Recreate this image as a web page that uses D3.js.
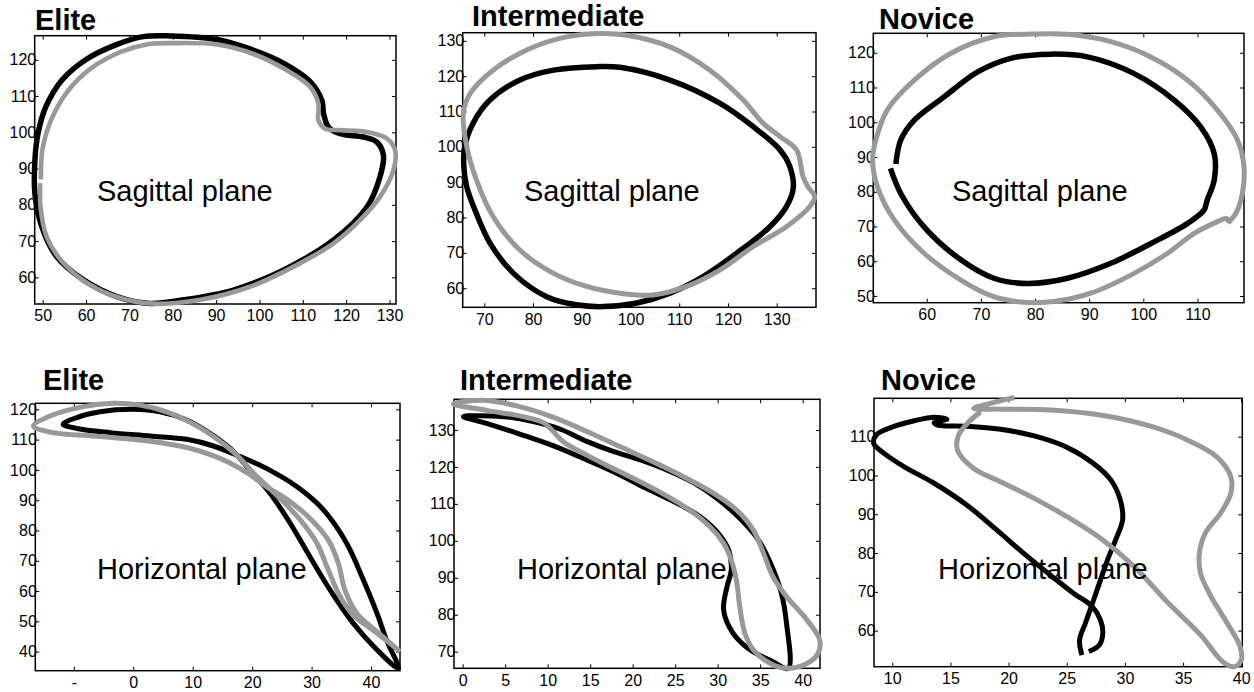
<!DOCTYPE html>
<html>
<head>
<meta charset="utf-8">
<script src="https://cdn.jsdelivr.net/npm/d3@7"></script>
<style>
  body { margin: 0; background: #fff; }
  svg { display: block; font-family: "Liberation Sans", Arial, sans-serif; }
  .title { font-size: 29px; font-weight: bold; }
  .note { font-size: 29px; }
  .tick line { stroke: #000; stroke-width: 1px; }
  .box { fill: none; stroke: #000; stroke-width: 1.5px; }
  .trace { fill: none; stroke-linejoin: round; }
</style>
</head>
<body>
<svg id="chart" width="1254" height="692"></svg>
<script>
// panel titles and annotations
const groups = ["Elite", "Intermediate", "Novice"];
const planes = ["Sagittal plane", "Horizontal plane"];

// tick values per panel
const eliteSagX = [50, 60, 70, 80, 90, 100, 110, 120, 130];
const eliteSagY = [60, 70, 80, 90, 100, 110, 120];
const interSagX = [70, 80, 90, 100, 110, 120, 130];
const interSagY = [60, 70, 80, 90, 100, 110, 120, 130];
const noviceSagX = [60, 70, 80, 90, 100, 110];
const noviceSagY = [50, 60, 70, 80, 90, 100, 110, 120];
const eliteHorX = [-10, 0, 10, 20, 30, 40];
const eliteHorXLabels = ["-", "0", "10", "20", "30", "40"];
const eliteHorY = [40, 50, 60, 70, 80, 90, 100, 110, 120];
const interHorX = [0, 5, 10, 15, 20, 25, 30, 35, 40];
const interHorY = [70, 80, 90, 100, 110, 120, 130];
const noviceHorX = [10, 15, 20, 25, 30, 35, 40];
const noviceHorY = [60, 70, 80, 90, 100, 110];

// traces, [x, y] (black = first trial, grey = second)
const eliteSagBlack = [[79.4,126.6],[90.2,125.6],[97.8,123.0],[105.5,119.1],[111.7,114.0],[114.4,108.8],[114.8,105.1],[115.9,101.5],[118.6,99.6],[124.0,98.7],[127.1,97.3],[128.6,93.7],[127.8,87.7],[124.8,79.4],[117.1,70.3],[105.5,62.0],[94.0,56.5],[82.5,53.8],[74.8,52.8],[67.1,54.7],[59.4,59.3],[53.2,65.7],[49.8,73.9],[48.2,83.1],[48.2,92.3],[48.9,99.6],[50.7,107.0],[54.5,114.5],[60.0,120.1],[67.0,124.2],[73.2,126.4]];
const eliteSagGray = [[49.6,87.0],[49.9,95.0],[51.9,103.3],[55.8,111.4],[61.2,117.7],[68.0,122.2],[74.2,124.3],[80.2,124.6],[90.2,124.2],[98.6,121.6],[106.3,117.1],[111.7,112.5],[113.6,107.9],[113.6,103.3],[115.2,101.0],[118.6,100.6],[124.8,100.1],[129.4,98.3],[131.3,95.0],[130.9,89.5],[127.8,82.2],[123.2,75.8],[117.1,69.4],[107.8,62.9],[97.8,57.4],[86.3,53.8],[76.3,52.7],[69.4,53.8],[61.7,57.4],[54.8,63.9],[50.9,71.2],[49.5,79.4],[49.4,86.0]];
const interSagBlack = [[66.0,100.1],[67.7,106.7],[71.2,113.3],[77.3,118.9],[84.2,121.7],[93.1,122.7],[97.8,122.5],[108.1,118.9],[118.4,112.3],[125.2,105.7],[130.7,99.1],[132.7,94.4],[133.4,88.3],[132.0,83.1],[128.6,77.4],[121.8,69.9],[114.9,63.3],[108.1,58.6],[101.3,55.8],[94.4,54.8],[88.9,55.3],[82.8,57.6],[76.0,64.2],[71.2,72.7],[68.1,82.1],[66.4,88.7],[65.8,94.5]];
const interSagGray = [[65.7,109.5],[67.1,115.1],[71.8,121.7],[78.7,127.4],[85.5,130.7],[92.4,132.0],[99.2,131.6],[108.1,128.3],[116.3,121.7],[123.1,113.3],[127.2,106.7],[130.7,102.9],[134.1,99.1],[135.4,91.6],[136.4,88.7],[137.8,85.9],[136.8,83.1],[132.0,77.4],[125.2,71.8],[118.4,65.2],[111.5,60.5],[104.7,58.1],[97.8,58.6],[91.0,60.5],[84.2,64.2],[77.3,70.8],[71.8,80.3],[68.4,90.6],[66.4,100.1]];
const noviceSagBlack = [[54.3,88.0],[55.2,94.9],[57.7,100.6],[63.2,107.3],[69.4,114.5],[75.5,118.4],[82.9,119.6],[89.7,118.8],[98.3,114.0],[105.7,106.4],[110.6,98.7],[113.1,91.0],[113.1,83.4],[111.8,77.6],[111.2,74.7],[108.2,70.9],[101.4,65.1],[94.0,59.4],[86.0,55.1],[78.6,53.6],[72.4,55.1],[66.3,60.4],[59.5,69.9],[55.2,79.5],[53.3,86.7]];
const noviceSagGray = [[115.6,71.0],[117.1,73.8],[118.3,79.5],[118.6,87.2],[117.4,94.9],[113.7,103.5],[108.2,112.1],[101.4,118.8],[94.0,123.2],[86.0,125.3],[79.8,125.4],[72.4,124.6],[64.4,119.8],[57.7,112.1],[52.7,103.5],[50.6,94.9],[50.0,89.1],[50.9,81.4],[54.0,71.9],[59.5,62.3],[66.3,54.6],[72.4,49.8],[78.0,48.2],[83.5,48.4],[90.3,50.8],[98.3,56.5],[104.5,62.3],[109.4,68.0],[113.7,71.4],[115.3,72.3],[115.8,71.3]];
const eliteHorBlack = [[-11.8,115.1],[-9.5,117.3],[-5.6,119.2],[0,120.0],[4.5,119.2],[9.0,116.5],[12.9,112.1],[16.3,107.1],[19.6,100.0],[23.0,92.3],[26.4,82.4],[29.7,71.4],[33.1,60.4],[37.0,49.4],[41.0,40.6],[44.6,34.5],[42.6,43.9],[41.0,52.7],[38.7,63.7],[35.9,75.8],[32.0,86.8],[27.5,94.5],[22.4,100.5],[18.0,104.4],[13.5,107.9],[9.0,110.1],[2.8,111.2],[-3.9,112.3],[-9.5,113.7]];
const eliteHorGray = [[44.9,40.0],[41.0,46.6],[37.6,52.7],[35.6,60.4],[34.5,69.2],[32.8,76.9],[30.0,83.5],[26.4,89.5],[22.4,94.5],[19.1,99.1],[14.6,103.8],[9.0,107.4],[2.8,109.5],[-5.6,111.0],[-14.0,112.5],[-16.8,114.5],[-14.0,117.8],[-8.4,120.9],[-3.4,122.0],[1.1,121.4],[5.6,119.2],[11.2,114.0],[16.8,106.0],[20.8,97.8],[24.7,90.6],[28.1,83.5],[30.9,75.8],[32.8,67.0],[34.8,58.2],[37.0,52.1],[41.0,46.1],[44.9,40.0]];
const interHorBlack = [[0.1,133.6],[4.8,133.6],[8.3,132.3],[11.5,130.2],[14.6,126.9],[17.7,124.2],[20.9,121.9],[24.0,119.2],[27.1,115.8],[29.9,111.5],[32.6,106.1],[34.8,100.2],[36.4,93.0],[37.5,85.8],[38.1,77.7],[38.3,65.5],[36.5,67.3],[33.8,70.5],[31.8,75.0],[30.7,81.3],[31.1,87.6],[31.6,92.1],[31.3,97.5],[29.9,102.5],[27.9,106.6],[25.2,110.2],[21.6,114.2],[18.1,118.3],[14.6,121.9],[10.7,125.7],[6.7,128.9],[2.8,131.8]];
const interHorGray = [[-1.1,137.1],[2.8,138.0],[6.7,136.3],[10.7,133.4],[14.6,129.6],[18.5,125.5],[22.4,121.4],[25.6,117.8],[29.5,112.9],[32.2,108.4],[34.2,102.9],[35.4,96.6],[36.5,90.3],[38.1,84.9],[40.5,78.6],[42.0,73.2],[41.8,69.5],[40.5,66.8],[38.1,65.5],[36.2,66.8],[34.2,70.5],[33.2,75.0],[32.6,82.2],[32.2,89.4],[31.6,94.8],[30.7,99.3],[29.1,103.8],[26.4,108.8],[22.4,114.2],[18.5,118.7],[14.6,123.2],[11.8,126.9],[10.5,130.0],[9.5,132.0],[6.7,133.8],[2.8,135.3]];
const noviceHorBlack = [[26.3,53.7],[26.1,57.6],[26.6,61.9],[27.2,67.0],[27.8,72.2],[28.5,78.2],[29.2,83.4],[29.8,88.5],[29.6,93.7],[28.8,98.8],[27.3,103.1],[25.0,107.3],[22.2,110.2],[19.3,111.9],[16.4,112.7],[13.9,113.0],[13.6,113.6],[14.7,114.5],[13.6,115.0],[11.9,114.1],[9.9,112.4],[8.6,110.4],[8.4,108.3],[9.3,105.7],[11.0,102.3],[13.6,98.0],[16.4,92.4],[19.0,85.9],[21.3,79.9],[23.6,74.3],[25.6,69.6],[27.2,66.2],[27.9,62.7],[28.1,59.3],[27.8,56.3],[26.9,54.6]];
const noviceHorGray = [[20.5,120.1],[18.7,118.8],[17.0,117.3],[19.3,117.1],[23.6,116.9],[27.9,115.6],[32.2,112.7],[35.4,109.1],[37.9,104.8],[39.1,99.7],[39.1,95.4],[38.2,90.2],[36.9,85.1],[36.4,79.9],[36.5,74.8],[37.4,68.8],[38.8,61.9],[39.9,55.9],[40.0,52.4],[39.4,50.7],[38.4,52.0],[36.5,58.9],[33.6,67.5],[30.8,76.5],[27.9,83.8],[25.0,89.4],[22.2,94.1],[19.3,98.4],[17.0,101.8],[15.6,106.6],[15.7,110.4],[16.6,113.9],[17.6,116.4]];

const svg = d3.select("#chart");

const panels = [
  { box: [34.7, 35.7, 396, 304], xDom: [48.15, 131.5], yDom: [52.65, 126.65], xTicks: eliteSagX, yTicks: eliteSagY,
    title: groups[0], titleAt: [35, 30], note: planes[0], noteAt: [97, 201],
    black: eliteSagBlack, gray: eliteSagGray, blackClosed: true, grayClosed: false, wBlack: 5.5, wGray: 4.6 },
  { box: [462.7, 32.7, 816, 307.3], xDom: [65.57, 138.07], yDom: [54.6, 132.3], xTicks: interSagX, yTicks: interSagY,
    title: groups[1], titleAt: [472, 26], note: planes[0], noteAt: [524, 201],
    black: interSagBlack, gray: interSagGray, blackClosed: true, grayClosed: true, wBlack: 5.5, wGray: 5 },
  { box: [873.3, 33.3, 1244, 302.7], xDom: [50.13, 118.6], yDom: [48.07, 125.6], xTicks: noviceSagX, yTicks: noviceSagY,
    title: groups[2], titleAt: [879, 29.3], note: planes[0], noteAt: [952, 201],
    black: noviceSagBlack, gray: noviceSagGray, blackClosed: false, grayClosed: false, wBlack: 5.5, wGray: 5 },
  { box: [35.3, 403.3, 400, 670.7], xDom: [-16.49, 44.88], yDom: [33.7, 122.0], xTicks: eliteHorX, yTicks: eliteHorY,
    xLabels: eliteHorXLabels,
    title: groups[0], titleAt: [43, 390], note: planes[1], noteAt: [97, 579],
    black: eliteHorBlack, gray: eliteHorGray, blackClosed: true, grayClosed: false, wBlack: 5, wGray: 5 },
  { box: [454, 399.3, 820, 668.3], xDom: [-1.02, 42.04], yDom: [65.5, 138.3], xTicks: interHorX, yTicks: interHorY,
    title: groups[1], titleAt: [460, 390], note: planes[1], noteAt: [517, 579],
    black: interHorBlack, gray: interHorGray, blackClosed: true, grayClosed: true, wBlack: 5, wGray: 5 },
  { box: [874, 398.3, 1242.3, 666.7], xDom: [8.43, 40.09], yDom: [50.7, 119.9], xTicks: noviceHorX, yTicks: noviceHorY,
    title: groups[2], titleAt: [881, 390], note: planes[1], noteAt: [938, 579],
    black: noviceHorBlack, gray: noviceHorGray, blackClosed: false, grayClosed: false, wBlack: 5, wGray: 5 },
];

/**
 * Drops the default axis line and sets the label font directly on each text
 * @param {any} sel
 */
function plainAxis(sel) {
  sel.attr("font-family", null).attr("font-size", null);
  sel.select(".domain").remove();
  sel.selectAll(".tick text")
    .style("font-family", "'Liberation Sans', Arial, sans-serif")
    .style("font-size", "16px")
    .attr("fill", "#000");
}

function drawPanel(p) {
  const [x0, y0, x1, y1] = p.box;
  const x = d3.scaleLinear().domain(p.xDom).range([x0, x1]);
  const y = d3.scaleLinear().domain(p.yDom).range([y1, y0]);
  const g = svg.append("g");

  const fmtX = p.xLabels ? (d, i) => p.xLabels[i] : (d) => d;

  // ticks point inwards on all four sides, labels only left and bottom
  g.append("g")
    .attr("transform", `translate(0,${y1})`)
    .call(d3.axisBottom(x).tickValues(p.xTicks).tickFormat(fmtX).tickSize(-4).tickPadding(6))
    .call(plainAxis);
  g.append("g")
    .attr("transform", `translate(${x0},0)`)
    .call(d3.axisLeft(y).tickValues(p.yTicks).tickSize(-4).tickPadding(-1.5))
    .call(plainAxis);
  g.append("g")
    .attr("transform", `translate(0,${y0})`)
    .call(d3.axisTop(x).tickValues(p.xTicks).tickFormat("").tickSize(-4))
    .call(plainAxis);
  g.append("g")
    .attr("transform", `translate(${x1},0)`)
    .call(d3.axisRight(y).tickValues(p.yTicks).tickFormat("").tickSize(-4))
    .call(plainAxis);

  g.append("rect")
    .attr("class", "box")
    .attr("x", x0)
    .attr("y", y0)
    .attr("width", x1 - x0)
    .attr("height", y1 - y0);

  const line = (closed) =>
    d3.line()
      .x((d) => x(d[0]))
      .y((d) => y(d[1]))
      .curve(closed ? d3.curveCatmullRomClosed : d3.curveCatmullRom);

  g.append("path")
    .attr("class", "trace")
    .attr("d", line(p.blackClosed)(p.black))
    .attr("stroke", "#000")
    .attr("stroke-width", p.wBlack);

  g.append("path")
    .attr("class", "trace")
    .attr("d", line(p.grayClosed)(p.gray))
    .attr("stroke", "#999")
    .attr("stroke-width", p.wGray);

  g.append("text").attr("class", "note").attr("x", p.noteAt[0]).attr("y", p.noteAt[1]).text(p.note);
  g.append("text").attr("class", "title").attr("x", p.titleAt[0]).attr("y", p.titleAt[1]).text(p.title);
}

panels.forEach(drawPanel);
</script>
</body>
</html>
